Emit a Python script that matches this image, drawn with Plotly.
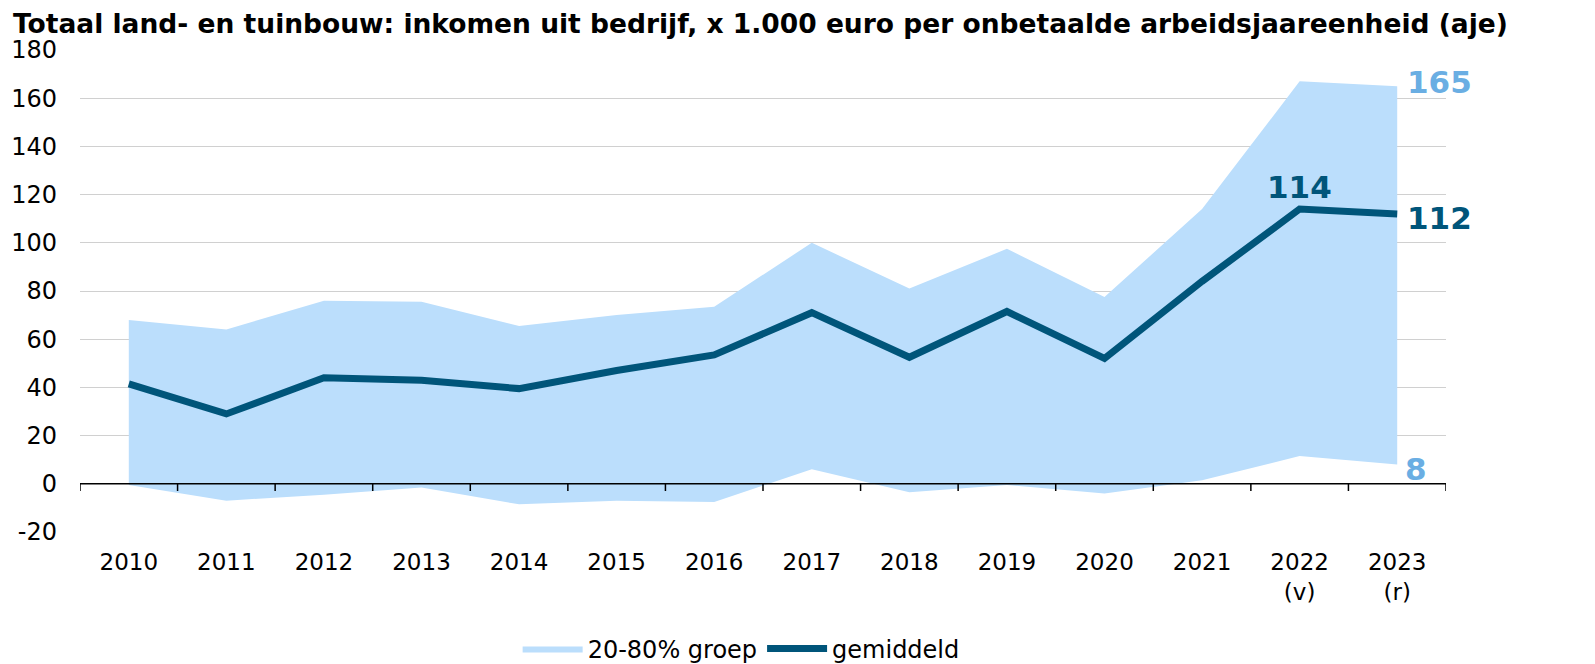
import plotly.graph_objects as go

years = ["2010", "2011", "2012", "2013", "2014", "2015", "2016", "2017", "2018", "2019", "2020", "2021", "2022<br>(v)", "2023<br>(r)"]
upper = [68, 64, 76, 75.5, 65.5, 70, 73.5, 100, 81, 97.5, 77.5, 114, 167, 165]
lower = [-0.5, -7, -4.5, -1.5, -8.5, -7, -7.5, 6, -3.5, -0.5, -4, 1.5, 11.5, 8]
mean = [41.5, 29, 44, 43, 39.5, 47, 53.5, 71, 52.5, 71.5, 52, 84, 114, 112]
y_ticks = [-20, 0, 20, 40, 60, 80, 100, 120, 140, 160, 180]
y_ticktext = ["-20", "0", "20", "40", "60", "80", "100", "120", "140", "160", "180"]

band_col = "#BBDEFC"
line_col = "#00557A"
label_col = "#6AAEE3"
font = "DejaVu Sans"

x = list(range(len(years)))

fig = go.Figure()
fig.add_trace(go.Scatter(x=x, y=lower, mode="lines", line=dict(width=0, color=band_col),
                         showlegend=False, hoverinfo="skip"))
fig.add_trace(go.Scatter(x=x, y=upper, mode="lines", line=dict(width=0, color=band_col),
                         fill="tonexty", fillcolor=band_col, name="20-80% groep"))
fig.add_trace(go.Scatter(x=x, y=mean, mode="lines", line=dict(width=7, color=line_col),
                         name="gemiddeld"))

# zero axis line with category-boundary ticks
fig.add_shape(type="line", xref="x", yref="y", x0=-0.5, x1=len(years) - 0.5, y0=0, y1=0,
              line=dict(color="black", width=1.5), layer="above")
for i in range(len(years) + 1):
    fig.add_shape(type="line", xref="x", yref="y", x0=i - 0.5, x1=i - 0.5, y0=0, y1=-3,
                  line=dict(color="black", width=1.5), layer="above")

n = len(years) - 1
lab_size = 31
fig.add_annotation(x=n, y=upper[n], text="<b>%d</b>" % upper[n], showarrow=False,
                   xanchor="left", xshift=8, yshift=4, font=dict(size=lab_size, color=label_col, family=font))
fig.add_annotation(x=n, y=lower[n], text="<b>%d</b>" % lower[n], showarrow=False,
                   xanchor="left", xshift=6, yshift=-4, font=dict(size=lab_size, color=label_col, family=font))
fig.add_annotation(x=n, y=mean[n], text="<b>%d</b>" % mean[n], showarrow=False,
                   xanchor="left", xshift=8, yshift=-4, font=dict(size=lab_size, color=line_col, family=font))
fig.add_annotation(x=n - 1, y=mean[n - 1], text="<b>%d</b>" % mean[n - 1], showarrow=False,
                   xanchor="center", yanchor="bottom", yshift=2, font=dict(size=lab_size, color=line_col, family=font))

fig.update_layout(
    width=1587, height=656,
    margin=dict(l=72, r=149, t=42, b=132),
    paper_bgcolor="white", plot_bgcolor="white",
    font=dict(family=font, size=23, color="black"),
    title=dict(text="<b>Totaal land- en tuinbouw: inkomen uit bedrijf, x 1.000 euro per onbetaalde arbeidsjaareenheid (aje)</b>",
               x=0.0, xanchor="left", xref="container", yref="container", y=1.0, yanchor="top",
               pad=dict(t=6, b=0, l=5, r=0),
               font=dict(size=26.5, color="black", family=font)),
    xaxis=dict(tickmode="array", tickvals=x, ticktext=years, range=[-0.5, len(years) - 0.5],
               showgrid=False, zeroline=False, showline=False, ticks="", ticklabelstandoff=14,
               tickfont=dict(size=23), automargin=False),
    yaxis=dict(range=[-20, 180], tickmode="array", tickvals=y_ticks, ticktext=y_ticktext,
               showgrid=True, gridcolor="#D0D0D0", gridwidth=1,
               zeroline=False, showline=False, ticks="", ticklabelstandoff=22, tickfont=dict(size=24),
               automargin=False),
    legend=dict(orientation="h", x=0.484, xanchor="center", yref="container", y=15 / 656, yanchor="middle",
                font=dict(size=24), itemwidth=60, traceorder="normal"),
)

fig.write_html("out.html")
